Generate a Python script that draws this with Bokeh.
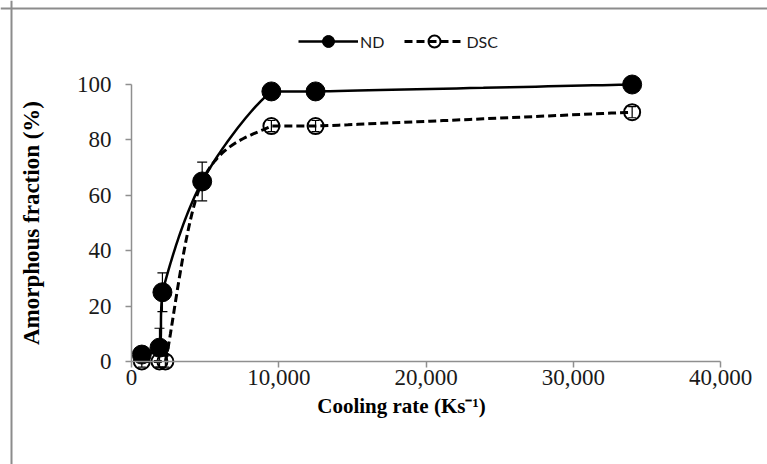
import numpy as np
from bokeh.plotting import figure
from bokeh.models import (Range1d, FixedTicker, NumeralTickFormatter, Legend, LegendItem,
                          ColumnDataSource, Whisker, TeeHead, LinearAxis, Span, Label)
from bokeh.embed import file_html
from bokeh.resources import INLINE

# ---- data ----
nd_rate = [700, 1900, 2100, 4800, 9500, 12500, 34000]
nd_frac = [2.5, 5, 25, 65, 97.5, 97.5, 100]
nd_err = [2, 7, 7, 7, 2, 2, 1]

dsc_rate = [700, 1900, 2300, 4800, 9500, 12500, 34000]
dsc_frac = [0, 0, 0, 65, 85, 85, 90]
dsc_err = [2, 2, 2, 2, 2, 2, 2]

x_ticks = [0, 10000, 20000, 30000, 40000]
y_ticks = [0, 20, 40, 60, 80, 100]

# pixel scale used for Excel-like smoothing (screen space)
SX = 589 / 40000.0
SY = 277 / 100.0


def smooth(xs, ys, n=30):
    P = np.column_stack([np.array(xs, float) * SX, np.array(ys, float) * SY])
    out = []
    for i in range(len(P) - 1):
        p0 = P[i - 1] if i > 0 else P[i]
        p1, p2 = P[i], P[i + 1]
        p3 = P[i + 2] if i + 2 < len(P) else P[i + 1]
        c1 = p1 + (p2 - p0) / 6.0
        c2 = p2 - (p3 - p1) / 6.0
        lo = np.minimum(p1, p2)
        hi = np.maximum(p1, p2)
        c1 = np.clip(c1, lo, hi)
        c2 = np.clip(c2, lo, hi)
        t = np.linspace(0, 1, n)[:, None]
        seg = ((1 - t) ** 3) * p1 + 3 * ((1 - t) ** 2) * t * c1 + 3 * (1 - t) * t ** 2 * c2 + t ** 3 * p2
        out.append(seg if i == 0 else seg[1:])
    pts = np.vstack(out)
    return list(pts[:, 0] / SX), list(pts[:, 1] / SY)


W, H = 767, 464
X0, Y0 = 131, 361  # canvas position of data origin
p = figure(width=W, height=H, output_backend="svg", toolbar_location=None,
           x_range=Range1d(-X0 / SX, (W - X0) / SX),
           y_range=Range1d(-(H - Y0) / SY, Y0 / SY),
           min_border=0, x_axis_location=None, y_axis_location=None)
p.outline_line_color = None
p.grid.visible = False

xa = LinearAxis(fixed_location=0, bounds=(0, 40000), ticker=FixedTicker(ticks=x_ticks),
                formatter=NumeralTickFormatter(format="0,0"))
ya = LinearAxis(fixed_location=0, bounds=(0, 100), ticker=FixedTicker(ticks=y_ticks))
for ax in (xa, ya):
    ax.axis_line_color = "#8f8f8f"
    ax.axis_line_width = 1.5
    ax.major_tick_line_color = "#8f8f8f"
    ax.major_tick_line_width = 1.5
    ax.major_tick_in = 0
    ax.major_tick_out = 6
    ax.minor_tick_line_color = None
    ax.major_label_text_font = "Liberation Serif"
    ax.major_label_text_font_size = "23px"
    ax.major_label_text_color = "#1a1a1a"
    ax.axis_label_text_font = "Liberation Serif"
    ax.axis_label_text_font_style = "bold"
    ax.axis_label_text_font_size = "23px"
    ax.axis_label_text_color = "#000000"
xa.major_label_standoff = 2
ya.axis_label = "Amorphous fraction (%)"
ya.major_label_standoff = 14
ya.axis_label_standoff = 30
p.add_layout(xa, "below")
p.add_layout(ya, "left")

# x-axis title, placed like the original (left of the axis centre)
p.add_layout(Label(x=401, y=H - 405, x_units="screen", y_units="screen",
                   text="Cooling rate (Ks\u207b\u00b9)", text_align="center",
                   text_baseline="middle", text_font="Liberation Serif",
                   text_font_style="bold", text_font_size="21px", text_color="#000000"))

# chart-area border (left and top edges)
p.add_layout(Span(location=11, location_units="screen", dimension="height",
                  line_color="#8c8c8c", line_width=2))
p.add_layout(Span(location=H - 8, location_units="screen", dimension="width",
                  line_color="#8c8c8c", line_width=2))

# ---- DSC ----
dx, dy = smooth(dsc_rate, dsc_frac)
dsc_line = p.line(dx, dy, line_color="black", line_width=3, line_dash="8 4")
dsc_src = ColumnDataSource(dict(x=dsc_rate, y=dsc_frac,
                                lo=[a - b for a, b in zip(dsc_frac, dsc_err)],
                                hi=[a + b for a, b in zip(dsc_frac, dsc_err)]))
dsc_mk = p.scatter("x", "y", source=dsc_src, size=16, marker="circle", fill_color=None,
                   line_color="black", line_width=2)
p.add_layout(Whisker(base="x", lower="lo", upper="hi", source=dsc_src, line_color="black",
                     line_width=1.2,
                     upper_head=TeeHead(size=8, line_color="black", line_width=1.2),
                     lower_head=TeeHead(size=8, line_color="black", line_width=1.2)))

# ---- ND ----
nx, ny = smooth(nd_rate, nd_frac)
nd_line = p.line(nx, ny, line_color="black", line_width=2.5)
nd_src = ColumnDataSource(dict(x=nd_rate, y=nd_frac,
                               lo=[a - b for a, b in zip(nd_frac, nd_err)],
                               hi=[a + b for a, b in zip(nd_frac, nd_err)]))
p.add_layout(Whisker(base="x", lower="lo", upper="hi", source=nd_src, line_color="black",
                     line_width=1.2,
                     upper_head=TeeHead(size=10, line_color="black", line_width=1.2),
                     lower_head=TeeHead(size=10, line_color="black", line_width=1.2)))
nd_mk = p.scatter("x", "y", source=nd_src, size=19, marker="circle", fill_color="black",
                  line_color="black")

legend = Legend(items=[LegendItem(label="ND", renderers=[nd_line, nd_mk]),
                       LegendItem(label="DSC", renderers=[dsc_line, dsc_mk])],
                location=(298, 408), orientation="horizontal",
                glyph_width=60, glyph_height=30, label_standoff=2, spacing=20,
                padding=0, margin=0, border_line_color=None, background_fill_alpha=0,
                label_text_font="Lato", label_text_font_size="16px", label_text_color="#1a1a1a")
p.add_layout(legend)

open("out.html", "w").write(file_html(p, INLINE))
